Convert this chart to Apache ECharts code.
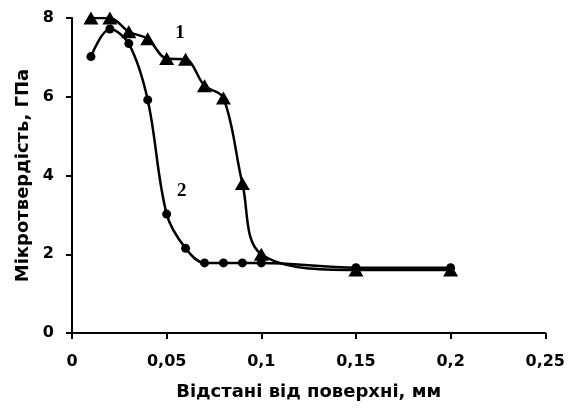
<!DOCTYPE html>
<html><head><meta charset="utf-8">
<script src="https://cdn.jsdelivr.net/npm/echarts@6/dist/echarts.min.js"></script>
<style>html,body{margin:0;padding:0;background:#fff}#c{width:568px;height:408px}</style>
</head><body><div id="c"></div>
<script>
const xValues = [0.01, 0.02, 0.03, 0.04, 0.05, 0.06, 0.07, 0.08, 0.09, 0.1, 0.15, 0.2];
const series1 = [8.0, 8.0, 7.65, 7.47, 6.97, 6.95, 6.28, 5.97, 3.8, 2.0, 1.6, 1.6];
const series2 = [7.02, 7.72, 7.35, 5.92, 3.02, 2.15, 1.78, 1.78, 1.78, 1.78, 1.66, 1.66];
const xTicks = [0, 0.05, 0.1, 0.15, 0.2, 0.25];
const yTicks = [0, 2, 4, 6, 8];
const label1 = {text: '1', x: 0.057, y: 7.62};
const label2 = {text: '2', x: 0.058, y: 3.6};

const chart = echarts.init(document.getElementById('c'));
const pair = (xs, ys) => xs.map((x, i) => [x, ys[i]]);
const font = 'DejaVu Sans, sans-serif';
const serif = 'Liberation Serif, Times New Roman, serif';
const mark = l => ({
  symbol: 'circle', symbolSize: 1, itemStyle: {color: 'rgba(0,0,0,0)'},
  data: [{coord: [l.x, l.y], value: l.text}],
  label: {show: true, position: 'inside', formatter: l.text, color: '#000', fontFamily: serif, fontWeight: 'bold', fontSize: 19}
});
chart.setOption({
  animation: false,
  backgroundColor: '#fff',
  grid: {left: 72, right: 20, top: 18, bottom: 75},
  xAxis: {
    type: 'value', min: xTicks[0], max: xTicks[xTicks.length-1], interval: 0.05,
    axisLine: {lineStyle: {color: '#000', width: 2}},
    axisTick: {show: true, length: 6, lineStyle: {color: '#000', width: 2}},
    splitLine: {show: false},
    axisLabel: {color: '#000', fontFamily: font, fontWeight: 'bold', fontSize: 16, margin: 21,
      formatter: v => String(+v.toFixed(2)).replace('.', ',')},
    name: 'Відстані від поверхні, мм', nameLocation: 'middle', nameGap: 50,
    nameTextStyle: {color: '#000', fontFamily: font, fontWeight: 'bold', fontSize: 18}
  },
  yAxis: {
    type: 'value', min: yTicks[0], max: yTicks[yTicks.length-1], interval: 2,
    axisLine: {show: true, lineStyle: {color: '#000', width: 2}},
    axisTick: {show: true, length: 6, lineStyle: {color: '#000', width: 2}},
    splitLine: {show: false},
    axisLabel: {color: '#000', fontFamily: font, fontWeight: 'bold', fontSize: 16, margin: 18},
    name: 'Мікротвердість, ГПа', nameLocation: 'middle', nameGap: 33,
    nameTextStyle: {color: '#000', fontFamily: font, fontWeight: 'bold', fontSize: 18}
  },
  series: [
    {
      type: 'line', data: pair(xValues, series1), smooth: 0.35,
      symbol: 'triangle', symbolSize: [15, 13],
      lineStyle: {color: '#000', width: 2.5}, itemStyle: {color: '#000'},
      markPoint: mark(label1)
    },
    {
      type: 'line', data: pair(xValues, series2), smooth: 0.35,
      symbol: 'circle', symbolSize: 9,
      lineStyle: {color: '#000', width: 2.5}, itemStyle: {color: '#000'},
      markPoint: mark(label2)
    }
  ]
});
</script></body></html>
